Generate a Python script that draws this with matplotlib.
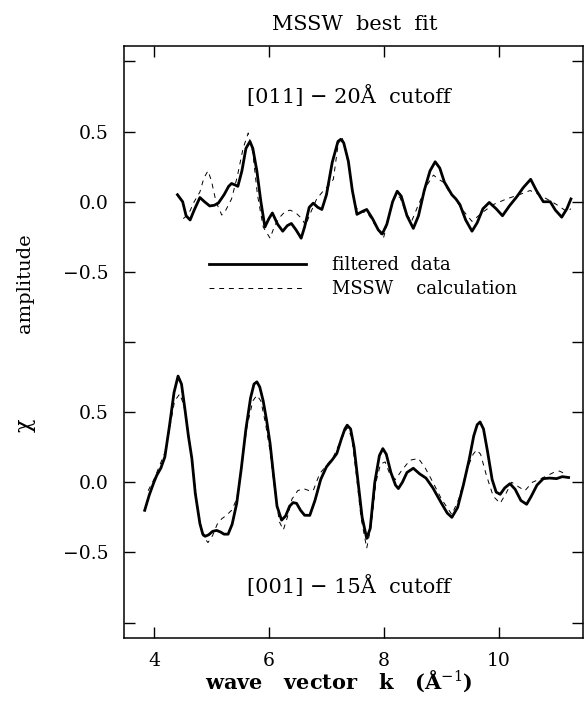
import matplotlib
matplotlib.use("Agg")
import matplotlib.pyplot as plt
import numpy as np

plt.rcParams['font.family'] = ['DejaVu Serif']
plt.rcParams['mathtext.fontset'] = 'dejavuserif'

# [011] - 20A cutoff, filtered data
k_011_data = [4.41, 4.50, 4.56, 4.63, 4.70, 4.80, 4.88, 4.97, 5.05, 5.12, 5.22, 5.30, 5.35, 5.41,
              5.46, 5.53, 5.60, 5.67, 5.72, 5.79, 5.86, 5.93, 6.00, 6.06, 6.15, 6.24, 6.32, 6.39,
              6.47, 6.56, 6.62, 6.70, 6.77, 6.85, 6.92, 7.00, 7.10, 7.20, 7.25, 7.30, 7.38, 7.45,
              7.53, 7.62, 7.70, 7.80, 7.90, 7.97, 8.05, 8.15, 8.23, 8.30, 8.40, 8.51, 8.60, 8.70,
              8.80, 8.89, 8.97, 9.05, 9.18, 9.25, 9.32, 9.42, 9.53, 9.62, 9.72, 9.83, 9.95, 10.06,
              10.18, 10.31, 10.42, 10.55, 10.65, 10.77, 10.89, 10.98, 11.09, 11.18, 11.25]
chi_011_data = [0.05, 0.00, -0.10, -0.13, -0.06, 0.03, 0.00, -0.03, -0.025, -0.01, 0.05, 0.11, 0.13, 0.12,
                0.11, 0.22, 0.38, 0.43, 0.38, 0.22, 0.00, -0.18, -0.12, -0.08, -0.16, -0.21, -0.17, -0.155,
                -0.20, -0.26, -0.18, -0.04, -0.01, -0.04, -0.055, 0.05, 0.28, 0.43, 0.445, 0.42, 0.29, 0.08,
                -0.09, -0.07, -0.055, -0.12, -0.20, -0.23, -0.16, 0.00, 0.075, 0.04, -0.10, -0.19, -0.10, 0.08,
                0.22, 0.285, 0.24, 0.14, 0.05, 0.02, -0.02, -0.13, -0.21, -0.15, -0.05, -0.005, -0.05, -0.10,
                -0.03, 0.036, 0.10, 0.16, 0.08, 0.00, 0.00, -0.06, -0.11, -0.05, 0.02]

# [011] - MSSW calculation
k_011_calc = [4.51, 4.60, 4.70, 4.80, 4.87, 4.94, 5.00, 5.08, 5.18, 5.25, 5.35, 5.45, 5.55, 5.64,
              5.72, 5.80, 5.90, 6.02, 6.10, 6.19, 6.28, 6.37, 6.47, 6.57, 6.64, 6.70, 6.83, 6.95,
              7.05, 7.12, 7.20, 7.26, 7.32, 7.40, 7.50, 7.58, 7.70, 7.85, 7.99, 8.08, 8.19, 8.28,
              8.38, 8.48, 8.60, 8.75, 8.86, 8.95, 9.03, 9.12, 9.21, 9.35, 9.53, 9.70, 9.90, 10.13,
              10.35, 10.54, 10.70, 10.83, 11.00, 11.18, 11.25]
chi_011_calc = [-0.12, -0.09, 0.00, 0.07, 0.17, 0.22, 0.15, 0.00, -0.095, -0.06, 0.02, 0.18, 0.38, 0.49,
                0.35, 0.05, -0.18, -0.26, -0.17, -0.11, -0.07, -0.06, -0.08, -0.12, -0.17, -0.10, 0.02, 0.08,
                0.12, 0.16, 0.40, 0.47, 0.40, 0.22, -0.03, -0.08, -0.07, -0.17, -0.26, -0.12, 0.05, 0.03,
                -0.08, -0.14, -0.02, 0.12, 0.19, 0.16, 0.14, 0.08, 0.035, -0.05, -0.14, -0.08, -0.02, 0.02,
                0.05, 0.08, 0.05, 0.02, -0.02, -0.07, -0.05]

# [001] - 15A cutoff, filtered data
k_001_data = [3.84, 3.92, 4.00, 4.05, 4.12, 4.19, 4.27, 4.35, 4.42, 4.48, 4.54, 4.60, 4.66, 4.72,
              4.80, 4.85, 4.89, 4.95, 5.02, 5.09, 5.16, 5.22, 5.29, 5.36, 5.44, 5.52, 5.60, 5.68,
              5.74, 5.79, 5.84, 5.90, 5.96, 6.02, 6.08, 6.14, 6.22, 6.29, 6.36, 6.42, 6.48, 6.55,
              6.62, 6.71, 6.80, 6.90, 7.00, 7.10, 7.18, 7.26, 7.32, 7.36, 7.42, 7.48, 7.55, 7.62,
              7.70, 7.76, 7.84, 7.92, 7.98, 8.04, 8.12, 8.20, 8.25, 8.32, 8.40, 8.51, 8.62, 8.73,
              8.85, 9.00, 9.10, 9.18, 9.28, 9.38, 9.48, 9.56, 9.62, 9.67, 9.73, 9.80, 9.88, 9.95,
              10.02, 10.10, 10.19, 10.28, 10.38, 10.48, 10.56, 10.66, 10.77, 10.88, 11.00, 11.10, 11.21]
chi_001_data = [-0.20, -0.09, 0.00, 0.05, 0.10, 0.18, 0.40, 0.64, 0.757, 0.70, 0.52, 0.33, 0.17, -0.08,
                -0.295, -0.37, -0.385, -0.375, -0.35, -0.343, -0.355, -0.37, -0.37, -0.30, -0.15, 0.10, 0.38, 0.60,
                0.70, 0.716, 0.68, 0.58, 0.44, 0.276, 0.05, -0.17, -0.27, -0.24, -0.17, -0.145, -0.15, -0.20,
                -0.235, -0.236, -0.13, 0.02, 0.11, 0.16, 0.205, 0.31, 0.38, 0.407, 0.38, 0.25, 0.00, -0.25,
                -0.40, -0.33, 0.00, 0.19, 0.24, 0.20, 0.07, -0.02, -0.045, 0.00, 0.07, 0.10, 0.06, 0.03,
                -0.04, -0.15, -0.22, -0.25, -0.18, -0.02, 0.16, 0.33, 0.41, 0.43, 0.38, 0.22, 0.02, -0.07,
                -0.086, -0.04, -0.01, -0.05, -0.13, -0.157, -0.10, -0.02, 0.026, 0.03, 0.026, 0.04, 0.034]

# [001] - MSSW calculation
k_001_calc = [3.90, 4.00, 4.10, 4.20, 4.28, 4.36, 4.45, 4.52, 4.60, 4.68, 4.76, 4.85, 4.94, 5.02,
              5.10, 5.18, 5.26, 5.35, 5.44, 5.52, 5.62, 5.72, 5.79, 5.86, 5.94, 6.02, 6.10, 6.18,
              6.25, 6.32, 6.40, 6.50, 6.60, 6.70, 6.77, 6.88, 7.00, 7.12, 7.25, 7.36, 7.44, 7.52,
              7.60, 7.70, 7.78, 7.86, 7.94, 8.02, 8.10, 8.20, 8.30, 8.45, 8.60, 8.72, 8.85, 9.00,
              9.18, 9.30, 9.45, 9.55, 9.61, 9.68, 9.78, 9.90, 10.02, 10.12, 10.22, 10.33, 10.45, 10.58,
              10.75, 10.95, 11.05, 11.15]
chi_001_calc = [-0.06, 0.02, 0.12, 0.22, 0.40, 0.58, 0.63, 0.55, 0.35, 0.10, -0.20, -0.38, -0.43, -0.38,
                -0.30, -0.26, -0.236, -0.20, -0.12, 0.10, 0.40, 0.58, 0.62, 0.58, 0.42, 0.22, -0.05, -0.28,
                -0.34, -0.25, -0.12, -0.06, -0.045, -0.06, -0.06, 0.06, 0.12, 0.18, 0.30, 0.39, 0.32, 0.05,
                -0.25, -0.47, -0.30, 0.00, 0.13, 0.145, 0.06, 0.02, 0.08, 0.157, 0.17, 0.10, 0.00, -0.12,
                -0.23, -0.12, 0.10, 0.20, 0.23, 0.20, 0.05, -0.10, -0.15, -0.08, 0.00, -0.03, -0.06, 0.00,
                0.03, 0.07, 0.08, 0.06]

offset = 2.0  # upper trace shifted up
ytick_pos = [-1.0, -0.5, 0.0, 0.5, 1.0, 1.5, 2.0, 2.5, 3.0]
ytick_lab = ['', '\u22120.5', '0.0', '0.5', '', '\u22120.5', '0.0', '0.5', '']
xticks = [4, 6, 8, 10]

fig = plt.figure(figsize=(5.84, 7.03), dpi=100)
ax = fig.add_axes([0.2123, 0.0925, 0.786, 0.842])

ax.plot(k_011_data, np.array(chi_011_data) + offset, color='black', lw=2.0,
        solid_joinstyle='round', label='filtered  data')
ax.plot(k_011_calc, np.array(chi_011_calc) + offset, color='black', lw=0.7,
        linestyle=(0, (5, 5)), label='MSSW    calculation')
ax.plot(k_001_data, chi_001_data, color='black', lw=2.0, solid_joinstyle='round')
ax.plot(k_001_calc, chi_001_calc, color='black', lw=0.7, linestyle=(0, (5, 5)))

ax.set_xlim(3.48, 11.46)
ax.set_ylim(-1.11, 3.11)
ax.set_xticks(xticks)
ax.set_yticks(ytick_pos)
ax.set_yticklabels(ytick_lab)
ax.tick_params(direction='in', length=8, width=1, top=True, right=True, labelsize=13.5)
ax.tick_params(axis='y', pad=11)
ax.tick_params(axis='x', pad=10)
for s in ax.spines.values():
    s.set_linewidth(1.1)

ax.text(0.49, 0.915, '[011] \u2212 20\u00c5  cutoff', transform=ax.transAxes,
        ha='center', va='center', fontsize=15)
ax.text(0.49, 0.088, '[001] \u2212 15\u00c5  cutoff', transform=ax.transAxes,
        ha='center', va='center', fontsize=15)

ax.legend(loc='upper left', bbox_to_anchor=(0.185, 0.645), frameon=False, fontsize=13,
          handlelength=5.4, handletextpad=1.4, labelspacing=0.35, borderpad=0, borderaxespad=0)

ax.set_xlabel('wave   vector   k   (\u00c5$^{-1}$)', fontsize=15, fontweight='bold')
ax.xaxis.set_label_coords(0.468, -0.052)
fig.text(25 / 584, 1 - 283 / 703, 'amplitude', rotation=90, ha='center', va='center',
         fontsize=14)
fig.text(25 / 584, 1 - 425 / 703, '\u03c7', rotation=90, ha='center', va='center',
         fontsize=16)
fig.text(355 / 584, 1 - 24 / 703, 'MSSW  best  fit', ha='center', va='center', fontsize=15)

fig.savefig('out.png', dpi=100)
